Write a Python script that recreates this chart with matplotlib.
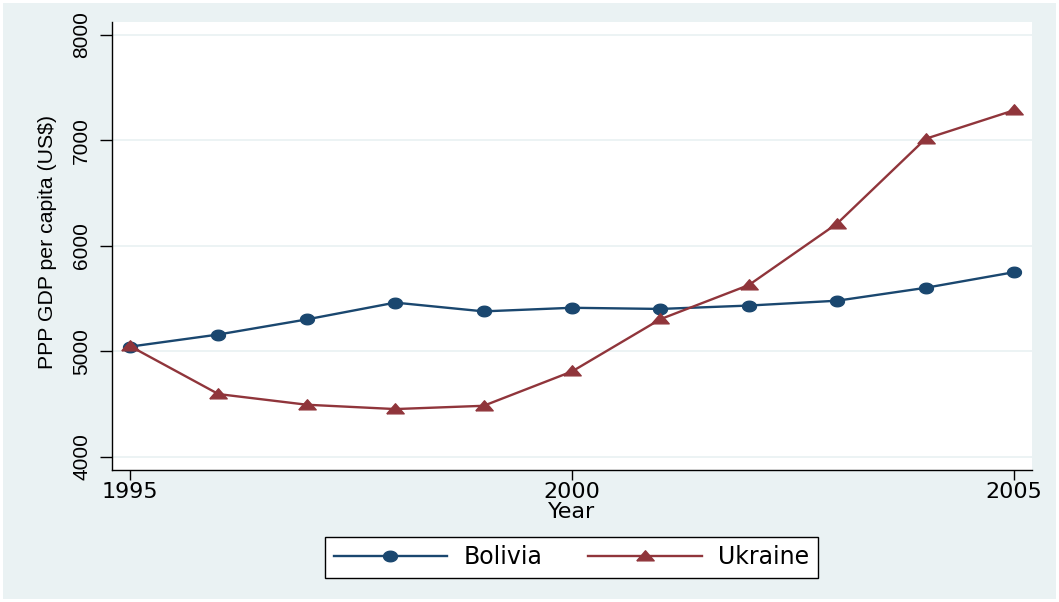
import numpy as np
import matplotlib
matplotlib.use("Agg")
import matplotlib.pyplot as plt

# PPP GDP per capita (US$), 1995-2005
years = [1995, 1996, 1997, 1998, 1999, 2000, 2001, 2002, 2003, 2004, 2005]
bolivia = [5045, 5160, 5303, 5462, 5379, 5413, 5402, 5434, 5480, 5602, 5750]
ukraine = [5050, 4596, 4495, 4454, 4485, 4810, 5305, 5628, 6211, 7013, 7283]
xticks = [1995, 2000, 2005]
yticks = [4000, 5000, 6000, 7000, 8000]

bg = "#EAF2F3"
navy = "#1A476F"
maroon = "#90353B"

# slightly squashed circle / wide triangle markers
t = np.linspace(0, 2 * np.pi, 40)
ellipse = list(zip(np.cos(t), 0.76 * np.sin(t)))
tri = [(-1, -0.5), (1, -0.5), (0, 0.66), (-1, -0.5)]

fig = plt.figure(figsize=(10.59, 6.02), dpi=100)
fig.patch.set_facecolor(bg)
fig.patch.set_edgecolor("white")
fig.patch.set_linewidth(3)

ax = fig.add_axes([112 / 1059, 1 - 470 / 602, 920 / 1059, 448 / 602])
ax.set_facecolor("white")
for s in ["top", "right"]:
    ax.spines[s].set_visible(False)
for s in ["left", "bottom"]:
    ax.spines[s].set_linewidth(1.0)
    ax.spines[s].set_color("black")

ax.plot(years, bolivia, color=navy, lw=1.7, marker=ellipse, ms=10,
        mfc=navy, mec=navy, label="Bolivia", zorder=3)
ax.plot(years, ukraine, color=maroon, lw=1.7, marker=tri, ms=12.5,
        mfc=maroon, mec=maroon, label="Ukraine", zorder=4)

ax.set_xlim(1994.796, 2005.204)
ax.set_ylim(3877, 8119)
ax.set_xticks(xticks)
ax.set_yticks(yticks)
ax.grid(axis="y", color=bg, lw=1.3)
ax.set_axisbelow(True)

ax.tick_params(axis="x", length=7, width=1, pad=1.5, labelsize=16)
ax.tick_params(axis="y", length=8.6, width=1, pad=6.5, labelsize=15)
for lab in ax.get_yticklabels():
    lab.set_rotation(90)
    lab.set_va("center")
    lab.set_family("Liberation Sans")
for lab in ax.get_xticklabels():
    lab.set_family("DejaVu Sans")

ax.set_xlabel("Year", fontsize=16, family="DejaVu Sans", labelpad=0.5)
ax.set_ylabel("PPP GDP per capita (US$)", fontsize=15.3, family="Liberation Sans")
ax.yaxis.set_label_coords(-0.0603, 0.509)

leg = fig.legend(loc="center", bbox_to_anchor=(571.5 / 1059, 1 - 557.5 / 602),
                 ncol=2, frameon=True, fancybox=False,
                 handlelength=4.8, handletextpad=0.7, columnspacing=1.95,
                 borderpad=0.35, borderaxespad=0,
                 prop={"family": "DejaVu Sans", "size": 17})
leg.get_frame().set_edgecolor("black")
leg.get_frame().set_linewidth(1.0)
leg.get_frame().set_facecolor("white")
leg.get_frame().set_alpha(1)

fig.savefig("out.png", dpi=100, facecolor=bg)
